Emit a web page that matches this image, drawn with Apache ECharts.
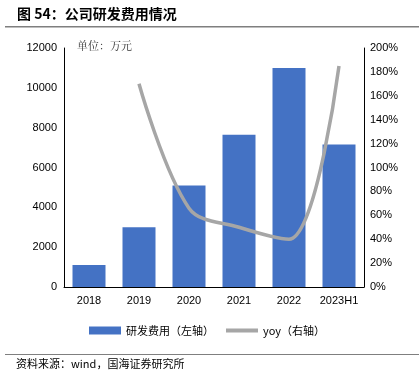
<!DOCTYPE html>
<html><head><meta charset="utf-8">
<script src="https://cdn.jsdelivr.net/npm/echarts@6/dist/echarts.min.js"></script>
<style>html,body{margin:0;padding:0;background:#fff}#c{width:419px;height:379px}</style>
</head><body><div id="c"></div>
<script>
var categories = ['2018','2019','2020','2021','2022','2023H1'];
var rdExpense = [1100, 3000, 5100, 7650, 11000, 7150];
var yoy = [null, 170, 66, 50, 40, 185];

var chart = echarts.init(document.getElementById('c'));
var fontCN = '"Noto Sans CJK SC", "Liberation Sans", sans-serif';
var fontLat = '"Liberation Sans", Arial, sans-serif';
chart.setOption({
  animation: false,
  grid: {left: 64, right: 55, top: 48, bottom: 92},
  graphic: [
    {type:'text', left: 17, top: 7, style:{text:'图 54：公司研发费用情况', font:'bold 14px ' + fontCN, fill:'#000'}},
    {type:'rect', shape:{x:5, y:26, width:414, height:1.5}, style:{fill:'#7f7f7f'}},
    {type:'rect', shape:{x:5, y:354, width:414, height:1}, style:{fill:'#7f7f7f'}},
    {type:'text', left: 16, top: 358, style:{text:'资料来源：wind，国海证券研究所', font:'11px ' + fontCN, fill:'#000'}},
    {type:'text', left: 77, top: 40, style:{text:'单位：万元', font:'11px "Noto Serif CJK SC", ' + fontCN, fill:'#333'}}
  ],
  legend: {
    bottom: 38, left: 84, itemGap: 12, itemWidth: 32, itemHeight: 8,
    textStyle: {fontFamily: fontCN, fontSize: 11, color: '#000'},
    data: [
      {name:'研发费用（左轴）', icon:'rect'},
      {name:'yoy（右轴）', icon:'path://M0,0L32,0L32,4L0,4Z', itemStyle:{color:'#a6a6a6'}}
    ]
  },
  xAxis: {
    type: 'category', data: categories,
    axisLine: {lineStyle:{color:'#000', width:1}},
    axisTick: {show:false},
    axisLabel: {fontFamily: fontLat, fontSize: 11, color:'#000', margin: 8, interval: 0}
  },
  yAxis: [
    {type:'value', min:0, max:12000, interval:2000,
     axisLine:{show:true, lineStyle:{color:'#000'}}, axisTick:{show:false},
     splitLine:{show:false},
     axisLabel:{fontFamily: fontLat, fontSize: 11, color:'#000', margin: 7, formatter: function(v){return String(v);}}},
    {type:'value', min:0, max:200, interval:20,
     axisLine:{show:true, lineStyle:{color:'#000'}}, axisTick:{show:false},
     splitLine:{show:false},
     axisLabel:{fontFamily: fontLat, fontSize: 11, color:'#000', margin: 6, formatter:'{value}%'}}
  ],
  series: [
    {name:'研发费用（左轴）', type:'bar', data: rdExpense, barWidth:'66%',
     itemStyle:{color:'#4472c4'}},
    {name:'yoy（右轴）', type:'line', yAxisIndex:1, data: yoy, smooth: 0.35,
     showSymbol:false, symbol:'none', connectNulls:false,
     lineStyle:{color:'#a6a6a6', width:3.5}, itemStyle:{color:'#a6a6a6'}}
  ]
});
</script></body></html>
